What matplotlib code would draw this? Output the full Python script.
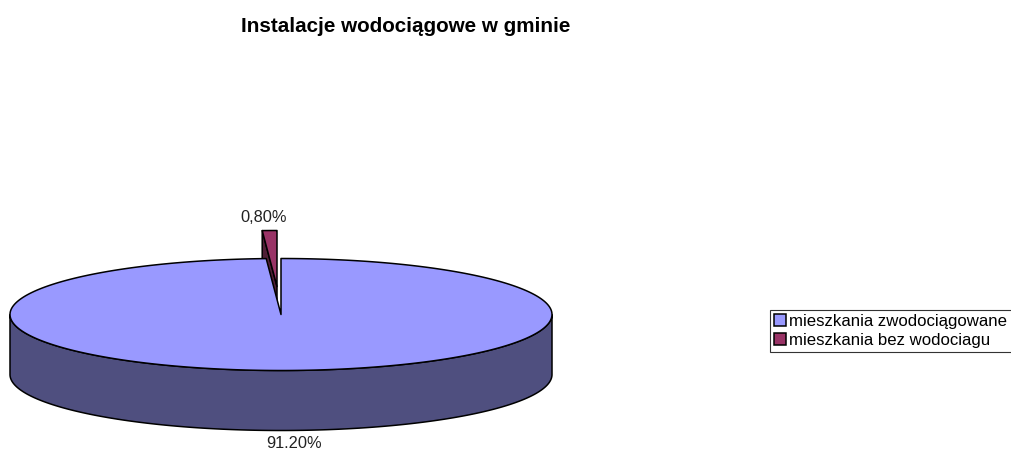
import numpy as np
import matplotlib
matplotlib.use('Agg')
import matplotlib.pyplot as plt
from matplotlib.patches import Polygon, Patch

plt.rcParams['font.family'] = ['Liberation Sans', 'DejaVu Sans']

title = 'Instalacje wodociągowe w gminie'
categories = ['mieszkania zwodociągowane', 'mieszkania bez wodociagu']
values = [91.2, 0.8]
value_labels = ['91.20%', '0,80%']
top_colors = ['#9999ff', '#993366']
side_colors = ['#4f4f7f', '#4f1f36']

# pie geometry in pixels of the picture
cx, cy = 281, 314.5
rx, ry = 271, 56
depth = 60
explode = (-4, -28)


def rim(a0, a1, x0=cx, y0=cy):
    # a measured clockwise from 12 o'clock, in degrees
    a = np.radians(np.linspace(a0, a1, 400))
    return np.column_stack([x0 + rx * np.sin(a), y0 - ry * np.cos(a)])


fig = plt.figure(figsize=(10.12, 4.49), dpi=100)
ax = fig.add_axes([0, 0, 1, 1])
ax.set_xlim(0, 1012)
ax.set_ylim(449, 0)
ax.axis('off')

angle_main = 360 * values[0] / sum(values)

# exploded slice first, the big one covers it
sx, sy = cx + explode[0], cy + explode[1]
slice_rim = rim(angle_main, 360, sx, sy)
left = slice_rim[0]
wall = [left, (sx, sy), (sx, sy + depth), (left[0], left[1] + depth)]
ax.add_patch(Polygon(wall, fc=side_colors[1], ec='black', lw=1.1, joinstyle='round'))
ax.add_patch(Polygon(np.vstack([[(sx, sy)], slice_rim]), fc=top_colors[1], ec='black', lw=1.1, joinstyle='round'))

# big slice: side wall then top
front = rim(90, 270)
side = np.vstack([front, (front + [0, depth])[::-1]])
ax.add_patch(Polygon(side, fc=side_colors[0], ec='black', lw=1.1))
ax.add_patch(Polygon(np.vstack([[(cx, cy)], rim(0, angle_main)]), fc=top_colors[0], ec='black', lw=1.1, joinstyle='round'))

ax.text(294, 443, value_labels[0], ha='center', va='center', fontsize=11.8, color='#222222')
ax.text(264, 217, value_labels[1], ha='center', va='center', fontsize=11.8, color='#222222')
ax.text(405.5, 26, title, ha='center', va='center', fontsize=14.9, fontweight='bold', color='black')

handles = [Patch(fc=c, ec='black', lw=1.1) for c in top_colors]
leg = fig.legend(handles, categories, loc='upper left', bbox_to_anchor=(770 / 1012, 1 - 310 / 449),
                 borderaxespad=0, fontsize=12.1, frameon=True, fancybox=False, edgecolor='#333333',
                 framealpha=1, handlelength=0.7, handleheight=0.7, handletextpad=0.2,
                 borderpad=0.25, labelspacing=0.22)
leg.get_frame().set_linewidth(0.8)

fig.savefig('out.png', dpi=100)
